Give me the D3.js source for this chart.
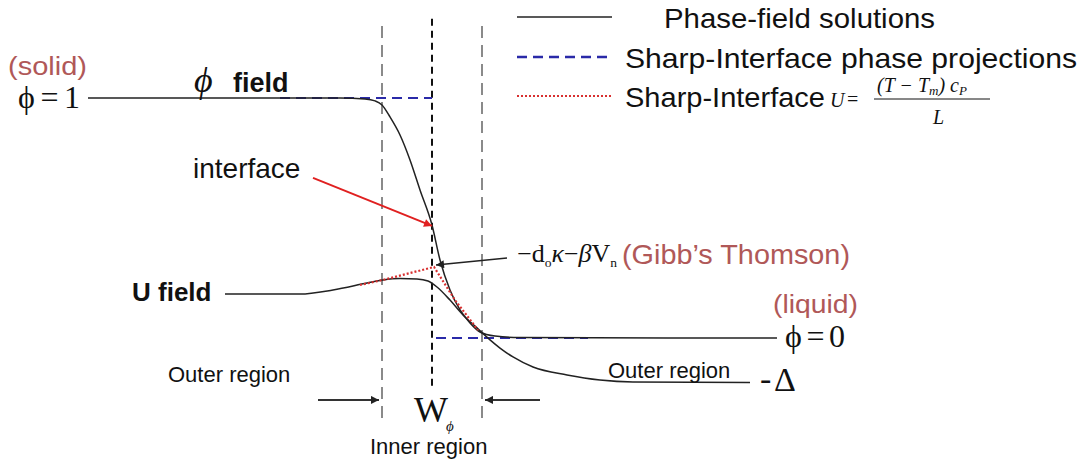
<!DOCTYPE html>
<html><head><meta charset="utf-8">
<script src="https://cdn.jsdelivr.net/npm/d3@7"></script>
<style>body{margin:0;background:#fff}svg{display:block}
.sans{font-family:"Liberation Sans",Arial,sans-serif}
.serif{font-family:"Liberation Serif","Times New Roman",serif}
</style></head><body>
<svg id="c" width="1083" height="460"></svg>
<script>
// position (units of half interface width, interface at 0) and field values
const phiX = [-6.88, -1.84, -1.34, -1.14, -1.0, -0.84, -0.64, -0.44, -0.24, 0, 0.16, 0.36, 0.56, 0.76, 0.96, 1.26, 1.76, 6.9];
const phiV = [1, 1, 0.996, 0.988, 0.971, 0.921, 0.846, 0.742, 0.617, 0.471, 0.325, 0.2, 0.117, 0.063, 0.025, 0.008, 0.002, 0];
const uX = [-4.14, -2.64, -1.98, -1.3, -0.98, -0.64, -0.3, -0.08, 0.1, 0.36, 0.62, 0.9, 1.16, 1.36, 1.62, 2.02, 2.7, 3.36, 4.02, 6.36];
const uV = [0.183, 0.183, 0.2, 0.229, 0.242, 0.248, 0.246, 0.2375, 0.2125, 0.158, 0.096, 0.042, -0.008, -0.042, -0.079, -0.121, -0.154, -0.175, -0.183, -0.185];
const sharpUX = [-1.44, -0.98, 0.04, 0.46, 0.92];
const sharpUV = [0.221, 0.242, 0.296, 0.158, 0.033];
const sharpPhiSolidX = [-3.04, 0];
const sharpPhiSolidV = [1, 1];
const sharpPhiLiquidX = [0.08, 3.12];
const sharpPhiLiquidV = [0, 0];
const boundaryX = [-1, 0, 1];
const legendLabels = ["Phase-field solutions", "Sharp-Interface phase projections", "Sharp-Interface"];

const svg = d3.select("#c");
const x = d3.scaleLinear().domain([-7, 7]).range([82, 782]);
const y = d3.scaleLinear().domain([0, 1]).range([338, 98]);

const defs = svg.append("defs");
function marker(id, color){
  defs.append("marker").attr("id", id).attr("viewBox", "0 0 10 10").attr("refX", 10).attr("refY", 5)
    .attr("markerWidth", 12).attr("markerHeight", 8).attr("markerUnits","userSpaceOnUse").attr("orient", "auto")
    .append("path").attr("d", "M0,0L10,5L0,10z").attr("fill", color);
}
marker("arK", "#222"); marker("arR", "#e02020");

const line = d3.line().x(d => x(d[0])).y(d => y(d[1]));
const smooth = d3.line().x(d => x(d[0])).y(d => y(d[1])).curve(d3.curveMonotoneX);
const zip = (a, b) => a.map((v, i) => [v, b[i]]);

// boundaries
boundaryX.forEach(b => {
  const mid = b === 0;
  svg.append("path").attr("d", line(mid ? [[b, 1.33], [b, -0.2]] : [[b, 1.3], [b, -0.342]]))
    .attr("stroke", mid ? "#111" : "#8a8a8a").attr("stroke-width", 2)
    .attr("stroke-dasharray", mid ? "7,5" : "12,7").attr("fill", "none");
});

// sharp interface phase projections
[[sharpPhiSolidX, sharpPhiSolidV], [sharpPhiLiquidX, sharpPhiLiquidV]].forEach(([a, b]) => {
  svg.append("path").attr("d", line(zip(a, b))).attr("stroke", "#2a2aa8").attr("stroke-width", 2)
    .attr("stroke-dasharray", "10,6").attr("fill", "none");
});

// phase-field solutions
svg.append("path").attr("d", smooth(zip(phiX, phiV))).attr("stroke", "#222").attr("stroke-width", 1.5).attr("fill", "none");
svg.append("path").attr("d", smooth(zip(uX, uV))).attr("stroke", "#222").attr("stroke-width", 1.5).attr("fill", "none");

// sharp interface U
svg.append("path").attr("d", line(zip(sharpUX, sharpUV))).attr("stroke", "#d83030").attr("stroke-width", 2.2)
  .attr("stroke-dasharray", "2,2").attr("fill", "none");

// arrows
svg.append("path").attr("d", line([[-2.38, 0.667], [0, 0.467]])).attr("stroke", "#e02020").attr("stroke-width", 2).attr("marker-end", "url(#arR)");
svg.append("path").attr("d", line([[1.5, 0.333], [0.08, 0.304]])).attr("stroke", "#222").attr("stroke-width", 1.5).attr("marker-end", "url(#arK)");
svg.append("path").attr("d", line([[-2.28, -0.258], [-1.06, -0.258]])).attr("stroke", "#333").attr("stroke-width", 2).attr("marker-end", "url(#arK)");
svg.append("path").attr("d", line([[2.16, -0.258], [1.06, -0.258]])).attr("stroke", "#333").attr("stroke-width", 2).attr("marker-end", "url(#arK)");

// legend
const lg = svg.append("g");
lg.append("line").attr("x1", 517).attr("x2", 612).attr("y1", 17).attr("y2", 17).attr("stroke", "#222").attr("stroke-width", 1.5);
lg.append("line").attr("x1", 517).attr("x2", 612).attr("y1", 57).attr("y2", 57).attr("stroke", "#2a2aa8").attr("stroke-width", 2.5).attr("stroke-dasharray", "10,6");
lg.append("line").attr("x1", 517).attr("x2", 612).attr("y1", 96).attr("y2", 96).attr("stroke", "#d83030").attr("stroke-width", 2).attr("stroke-dasharray", "2,2");
const lt = (t, xx, yy, w) => lg.append("text").attr("class", "sans").attr("x", xx).attr("y", yy).attr("font-size", 28)
  .attr("textLength", w).attr("lengthAdjust", "spacingAndGlyphs").attr("fill", "#111").text(t);
lt(legendLabels[0], 664, 28, 271); lt(legendLabels[1], 625, 68, 452); lt(legendLabels[2], 625, 107, 200);
// formula
const fm = lg.append("g").attr("class", "serif").attr("font-style", "italic").attr("fill", "#111");
fm.append("text").attr("x", 830).attr("y", 107).attr("font-size", 20).text("U");
fm.append("text").attr("x", 847).attr("y", 106).attr("font-size", 20).attr("font-style", "normal").text("=");
fm.append("text").attr("x", 877).attr("y", 92).attr("font-size", 20).html('(T − T<tspan font-size="13" dy="3">m</tspan><tspan dy="-3">) c</tspan><tspan font-size="13" dy="3">P</tspan>');
fm.append("line").attr("x1", 874).attr("x2", 990).attr("y1", 99).attr("y2", 99).attr("stroke", "#111").attr("stroke-width", 1);
fm.append("text").attr("x", 933).attr("y", 124).attr("font-size", 20).text("L");

// annotations
const red = "#b05858";
const T = (t, xx, yy, size, cls, extra) => {
  const e = svg.append("text").attr("class", cls).attr("x", xx).attr("y", yy).attr("font-size", size).attr("fill", "#111");
  if (extra) extra(e);
  return e.text(t);
};
T("(solid)", 8, 75, 26, "sans", e => e.attr("fill", red).attr("textLength", 79).attr("lengthAdjust", "spacingAndGlyphs"));
T("ϕ = 1", 18, 108, 32, "serif", e => e.attr("textLength", 62).attr("lengthAdjust", "spacing"));
T("ϕ", 194, 92, 36, "serif", e => e.attr("font-style", "italic"));
T("field", 233, 92, 27, "sans", e => e.attr("font-weight", "bold"));
T("interface", 193, 178, 28, "sans");
T("U field", 132, 301, 26, "sans", e => e.attr("font-weight", "bold"));
T("Outer region", 168, 382, 22, "sans");
T("W", 414, 422, 36, "serif");
T("ϕ", 446, 431, 15, "serif", e => e.attr("font-style", "italic"));
T("Inner region", 370, 454, 22, "sans");
svg.append("text").attr("class", "serif").attr("x", 517).attr("y", 262).attr("font-size", 25).attr("fill", "#111")
  .attr("textLength", 100).attr("lengthAdjust", "spacingAndGlyphs")
  .html('−d<tspan font-size="13" dy="5">o</tspan><tspan dy="-5" font-style="italic">κ</tspan>−<tspan font-style="italic">β</tspan>V<tspan font-size="13" dy="5">n</tspan>');
T("(Gibb’s Thomson)", 622, 264, 28, "sans", e => e.attr("fill", red).attr("textLength", 228).attr("lengthAdjust", "spacingAndGlyphs"));
T("(liquid)", 773, 313, 26, "sans", e => e.attr("fill", red).attr("textLength", 85).attr("lengthAdjust", "spacingAndGlyphs"));
T("ϕ = 0", 785, 347, 32, "serif", e => e.attr("textLength", 60).attr("lengthAdjust", "spacing"));
T("Outer region", 608, 378, 22, "sans");
T("-", 760, 390, 34, "serif");
T("Δ", 774, 391, 34, "serif");
</script></body></html>
